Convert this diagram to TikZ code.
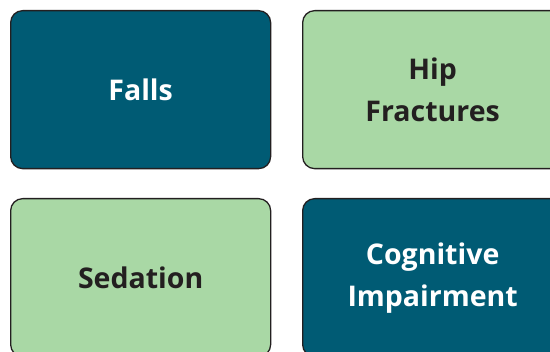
\documentclass[tikz,border=0pt]{standalone}
\usepackage{fontspec}
\setmainfont{Open Sans}
\definecolor{tealbox}{HTML}{005B74}
\definecolor{greenbox}{HTML}{A9D8A5}
\definecolor{inkdark}{HTML}{231F20}
\tikzset{
  tile/.style={draw=inkdark, line width=1.3pt, rounded corners=12pt,
    minimum width=260pt, minimum height=158pt, anchor=north west,
    inner sep=0pt, align=center,
    font=\fontsize{28.5}{42}\selectfont\bfseries},
  darktile/.style={tile, fill=tealbox, text=white},
  lighttile/.style={tile, fill=greenbox, text=inkdark}
}
\begin{document}
\begin{tikzpicture}[x=1pt,y=-1pt]
  \useasboundingbox (0,0) rectangle (550,352);
  \clip (0,0) rectangle (550,352);
  \node[darktile]  (falls)    at (10,10)   {Falls};
  \node[lighttile] (hip)      at (302,10)  {Hip\\Fractures};
  \node[lighttile] (sedation) at (10,198)  {Sedation};
  \node[darktile]  (cognitive) at (302,198) {Cognitive\\Impairment};
\end{tikzpicture}
\end{document}
